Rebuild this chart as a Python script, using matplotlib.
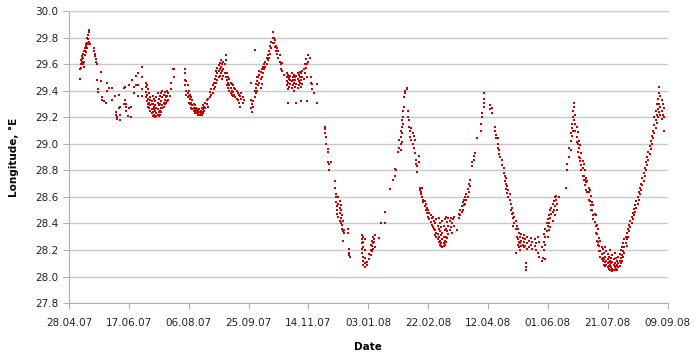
import datetime as dt
import numpy as np
import matplotlib
matplotlib.use('Agg')
import matplotlib.pyplot as plt
import matplotlib.dates as mdates
from matplotlib.ticker import FormatStrFormatter

# days since 28.04.07, then longitude readings of that day (deg E)
start = dt.datetime(2007, 4, 28)

spring07 = [
    (9, 29.49, 29.56), (10, 29.6, 29.63, 29.57), (11, 29.64, 29.62, 29.66),
    (12, 29.6, 29.68, 29.65), (12.5, 29.7, 29.62, 29.58), (13, 29.72, 29.67, 29.7),
    (14, 29.75, 29.69, 29.74), (15, 29.76, 29.8, 29.72), (16, 29.79, 29.82, 29.75),
    (17, 29.86, 29.84, 29.77), (17.5, 29.75), (21, 29.72, 29.7), (22, 29.68, 29.66),
    (22.5, 29.62, 29.64), (23, 29.6, 29.48), (24, 29.41, 29.39), (26.5, 29.54, 29.47),
    (27.5, 29.35, 29.33), (29, 29.32), (31, 29.31),
    (32, 29.46, 29.4), (33, 29.42), (36, 29.42, 29.33), (38, 29.36), (39, 29.24, 29.22),
    (40, 29.2, 29.19), (42, 29.37, 29.27), (42.5, 29.28), (43, 29.18, 29.22),
    (46, 29.42, 29.3), (47, 29.43, 29.33), (48, 29.28, 29.25, 29.3), (49, 29.21),
    (50, 29.44, 29.27), (52, 29.2, 29.28), (52.5, 29.48), (54, 29.43, 29.38),
    (56, 29.51, 29.44), (57.5, 29.53, 29.36), (58, 29.44), (61, 29.58, 29.5, 29.41, 29.36),
]

summer07 = [
    (64, 29.46, 29.43, 29.39, 29.35), (65, 29.44, 29.37, 29.32), (66, 29.41, 29.34, 29.3, 29.28),
    (67, 29.38, 29.31, 29.27), (68, 29.35, 29.29, 29.25, 29.33), (69, 29.32, 29.26, 29.23, 29.3),
    (70, 29.3, 29.24, 29.21, 29.36), (71, 29.28, 29.22, 29.26, 29.34), (72, 29.25, 29.2, 29.29, 29.32),
    (73, 29.23, 29.21, 29.27, 29.35), (74, 29.22, 29.26, 29.31, 29.38), (75, 29.24, 29.21, 29.29, 29.34),
    (76, 29.25, 29.3, 29.36, 29.22), (77, 29.27, 29.32, 29.38, 29.24), (78, 29.29, 29.35, 29.4, 29.27),
    (79, 29.31, 29.37, 29.28), (80, 29.33, 29.3, 29.39), (81, 29.35, 29.31, 29.36), (82, 29.36, 29.32, 29.4),
    (83, 29.33, 29.38), (84, 29.36), (85, 29.41, 29.46), (87, 29.56), (88, 29.56, 29.5),
    (97, 29.56, 29.53, 29.48, 29.44), (98, 29.47, 29.4, 29.37), (99, 29.44, 29.38, 29.35),
    (100, 29.4, 29.36, 29.31), (101, 29.37, 29.34, 29.3), (102, 29.35, 29.31, 29.27),
    (103, 29.33, 29.29, 29.26), (104, 29.3, 29.27, 29.25), (105, 29.29, 29.26, 29.23),
    (106, 29.27, 29.25, 29.24), (107, 29.26, 29.24, 29.23), (108, 29.25, 29.23, 29.22),
    (109, 29.24, 29.22, 29.26), (110, 29.23, 29.25, 29.22), (111, 29.24, 29.27, 29.22),
    (112, 29.26, 29.23, 29.29), (113, 29.25, 29.28), (114, 29.27, 29.31), (115, 29.3, 29.33),
    (116, 29.28, 29.34), (118, 29.35, 29.39), (119, 29.37, 29.41), (120, 29.38, 29.44),
    (121, 29.41, 29.46), (122, 29.43, 29.49), (123, 29.46, 29.51, 29.55), (124, 29.48, 29.53, 29.57),
    (125, 29.5, 29.55, 29.59), (126, 29.51, 29.56, 29.61), (127, 29.53, 29.58, 29.63),
    (128, 29.55, 29.6, 29.49), (129, 29.56, 29.62, 29.51), (130, 29.6, 29.53), (131, 29.67, 29.63, 29.5),
    (132, 29.53, 29.48, 29.44), (133, 29.5, 29.46, 29.42), (134, 29.49, 29.44, 29.4),
    (135, 29.46, 29.42, 29.38), (136, 29.45, 29.4, 29.37), (137, 29.44, 29.39, 29.36),
    (138, 29.42, 29.37), (139, 29.41, 29.35), (140, 29.4, 29.34), (141, 29.38, 29.33),
    (142, 29.37, 29.31), (143, 29.36, 29.28), (144, 29.38, 29.34), (145, 29.35, 29.31), (146, 29.33),
]

autumn07 = [
    (152, 29.33, 29.27, 29.46), (153, 29.3, 29.24), (154, 29.28, 29.32), (155, 29.71, 29.4, 29.35),
    (156, 29.42, 29.38, 29.45), (157, 29.47, 29.4, 29.5), (158, 29.5, 29.44), (159, 29.52, 29.46, 29.55),
    (160, 29.54, 29.49, 29.42), (161, 29.56, 29.5, 29.45), (162, 29.58, 29.53), (163, 29.6, 29.56),
    (164, 29.62, 29.58), (165, 29.65, 29.6), (166, 29.67, 29.63), (167, 29.7, 29.65), (168, 29.74, 29.68),
    (169, 29.77, 29.72), (170, 29.84, 29.8, 29.76), (171, 29.8, 29.76), (172, 29.78, 29.73),
    (173, 29.74, 29.7), (174, 29.72, 29.68), (175, 29.7, 29.65), (176, 29.67, 29.62), (177, 29.6, 29.56),
    (178, 29.61, 29.55), (180, 29.52), (182, 29.5, 29.47, 29.44, 29.53), (183, 29.52, 29.46, 29.41, 29.31),
    (184, 29.49, 29.43, 29.5), (185, 29.51, 29.45, 29.48), (186, 29.47, 29.42, 29.53),
    (187, 29.5, 29.44, 29.48), (188, 29.52, 29.46, 29.4), (189, 29.48, 29.43, 29.5),
    (190, 29.51, 29.45, 29.31), (191, 29.49, 29.42, 29.53), (192, 29.52, 29.47, 29.44),
    (193, 29.5, 29.46, 29.54), (194, 29.53, 29.48, 29.43, 29.32), (195, 29.55, 29.5, 29.45),
    (196, 29.56, 29.49), (197, 29.6, 29.53), (198, 29.64, 29.57), (199, 29.6, 29.32, 29.5),
    (200, 29.67, 29.62), (201, 29.65), (202, 29.5, 29.46), (203, 29.45, 29.41), (205, 29.38),
    (207, 29.31, 29.45),
]

winter08 = [
    (214, 29.13, 29.11, 29.08), (215, 29.05, 29.0), (216, 28.96, 28.94, 28.86), (217, 28.85, 28.8),
    (219, 28.86), (222, 28.72, 28.67), (223, 28.62, 28.6, 28.56), (224, 28.53, 28.5, 28.47),
    (225, 28.6, 28.55, 28.45), (226, 28.57, 28.52, 28.48, 28.42), (227, 28.54, 28.5, 28.44, 28.4),
    (228, 28.46, 28.39, 28.36), (229, 28.42, 28.34, 28.27), (230, 28.35, 28.33), (233, 28.36, 28.33),
    (234, 28.21, 28.18, 28.16), (235, 28.15), (245, 28.31, 28.28, 28.25, 28.21, 28.18),
    (246, 28.3, 28.26, 28.22, 28.15, 28.12, 28.09), (247, 28.28, 28.2, 28.14, 28.07, 28.1),
    (249, 28.11, 28.09), (251, 28.13, 28.17), (252, 28.2, 28.16, 28.24), (253, 28.23, 28.19, 28.27),
    (254, 28.25, 28.21, 28.3), (255, 28.28, 28.26), (256, 28.31, 28.22), (259, 28.29), (261, 28.4),
    (264, 28.4, 28.49), (268, 28.66), (271, 28.73), (272, 28.76, 28.81), (273, 28.8), (275, 28.94),
    (276, 28.97, 29.03), (277, 29.0, 29.05, 29.1, 28.95), (278, 29.08, 29.13, 29.18, 29.01),
    (279, 29.2, 29.25, 29.15), (280, 29.28, 29.35), (281, 29.38, 29.4), (282, 29.42, 29.41),
    (283, 29.25, 29.2), (284, 29.18, 29.13), (285, 29.1, 29.05), (286, 29.12, 29.03), (287, 29.08, 29.0),
    (288, 29.06, 28.97), (289, 29.03, 28.93), (290, 28.88, 28.85), (291, 28.83, 28.79), (292, 28.91, 28.86),
    (293, 28.67, 28.65), (294, 28.64, 28.62), (295, 28.6, 28.67), (296, 28.58, 28.56), (297, 28.57, 28.53),
    (298, 28.55, 28.5), (299, 28.52, 28.48), (300, 28.5, 28.45), (301, 28.48, 28.43), (302, 28.46, 28.41),
    (303, 28.44, 28.39), (304, 28.45, 28.37), (305, 28.42, 28.36), (306, 28.4, 28.35, 28.31),
    (307, 28.43, 28.33, 28.3), (308, 28.38, 28.32, 28.28), (309, 28.44, 28.36, 28.3, 28.26),
    (310, 28.4, 28.34, 28.27, 28.24), (311, 28.37, 28.31, 28.25, 28.23), (312, 28.42, 28.33, 28.28, 28.22),
    (313, 28.38, 28.3, 28.25, 28.23), (314, 28.43, 28.35, 28.27, 28.24), (315, 28.45, 28.36, 28.3, 28.26),
    (316, 28.41, 28.34, 28.29), (317, 28.44, 28.38, 28.32), (318, 28.42, 28.35), (319, 28.44, 28.37),
    (320, 28.4, 28.33), (321, 28.43), (322, 28.45, 28.38), (324, 28.35), (326, 28.47, 28.44),
    (327, 28.5, 28.46), (328, 28.53, 28.49), (329, 28.56, 28.5), (330, 28.58, 28.54), (331, 28.55, 28.6),
    (332, 28.62, 28.58), (333, 28.66, 28.6), (334, 28.7, 28.64), (335, 28.73, 28.68), (337, 28.83, 28.86),
    (338, 28.88, 28.91), (339, 28.93), (341, 29.04), (344, 29.1, 29.15), (345, 29.2, 29.23),
    (347, 29.28, 29.31, 29.34, 29.38),
]

spring08 = [
    (352, 29.29, 29.26), (353, 29.27, 29.23), (356, 29.13, 29.1), (357, 29.07, 29.04),
    (358, 29.0, 28.97, 29.04), (359, 28.95, 28.92), (360, 28.9), (362, 28.88, 28.84), (363, 28.82, 28.78),
    (364, 28.76, 28.72), (365, 28.7, 28.66, 28.74), (366, 28.68, 28.63), (367, 28.65, 28.6),
    (368, 28.62, 28.58), (369, 28.55, 28.5), (370, 28.52, 28.47), (371, 28.48, 28.44, 28.38),
    (372, 28.45, 28.4), (373, 28.42, 28.36, 28.18), (374, 28.38, 28.3), (375, 28.36, 28.28, 28.24),
    (376, 28.33, 28.26, 28.22), (377, 28.3, 28.25, 28.2), (378, 28.32, 28.27, 28.23), (379, 28.29, 28.24),
    (380, 28.31, 28.26, 28.22), (381, 28.28, 28.23), (382, 28.1, 28.07, 28.05), (383, 28.3, 28.25, 28.21),
    (384, 28.27, 28.22), (386, 28.29, 28.24), (387, 28.26, 28.21), (389, 28.28, 28.23), (390, 28.25, 28.2),
    (392, 28.3, 28.18), (393, 28.15, 28.26), (395, 28.22, 28.12), (396, 28.14), (397, 28.32, 28.26, 28.2),
    (398, 28.36, 28.3, 28.24, 28.13), (399, 28.4, 28.34), (400, 28.43, 28.38, 28.3), (401, 28.46, 28.4, 28.35),
    (402, 28.5, 28.44, 28.37), (403, 28.52, 28.47), (404, 28.55, 28.49, 28.42), (405, 28.57, 28.5),
    (406, 28.6, 28.53, 28.46), (407, 28.58, 28.61), (408, 28.55, 28.5), (409, 28.6),
]

summer08 = [
    (415, 28.67), (416, 28.8, 28.85), (418, 28.9, 28.97), (419, 29.02, 28.95, 29.08), (420, 29.12, 29.06, 29.15),
    (421, 29.2, 29.1, 29.25), (422, 29.31, 29.28, 29.18), (423, 29.22, 29.15, 29.1), (424, 29.13, 29.05, 29.01),
    (425, 29.09, 29.0, 28.94), (426, 29.02, 28.97, 28.9), (427, 28.99, 28.89, 28.87), (428, 28.93, 28.84, 28.8),
    (429, 28.87, 28.82, 28.76), (430, 28.85, 28.76, 28.73), (431, 28.8, 28.73, 28.69), (432, 28.74, 28.71, 28.65),
    (433, 28.72, 28.64), (434, 28.67, 28.64, 28.58), (435, 28.65, 28.57), (436, 28.61, 28.54, 28.5),
    (437, 28.56, 28.5), (438, 28.54, 28.46, 28.43), (439, 28.47, 28.41), (440, 28.46, 28.38, 28.33),
    (441, 28.39, 28.32, 28.27), (442, 28.36, 28.26, 28.24), (443, 28.29, 28.23, 28.19), (444, 28.27, 28.19, 28.15),
    (445, 28.22, 28.17, 28.13), (446, 28.21, 28.14, 28.12), (447, 28.18, 28.13, 28.09), (448, 28.22, 28.15, 28.11, 28.08),
    (449, 28.19, 28.12, 28.09), (450, 28.17, 28.13, 28.07, 28.1), (451, 28.15, 28.11, 28.08, 28.06),
    (452, 28.2, 28.12, 28.09, 28.05), (453, 28.14, 28.1, 28.07), (454, 28.16, 28.11, 28.06, 28.04),
    (455, 28.13, 28.09, 28.05), (456, 28.18, 28.1, 28.07, 28.05), (457, 28.14, 28.08, 28.06),
    (458, 28.12, 28.09, 28.05), (459, 28.15, 28.1, 28.07), (460, 28.17, 28.12, 28.08), (461, 28.2, 28.14, 28.1),
    (462, 28.22, 28.16, 28.12), (463, 28.25, 28.19, 28.15), (464, 28.28, 28.22, 28.18), (465, 28.3, 28.25),
    (466, 28.33, 28.28, 28.23), (467, 28.36, 28.3), (468, 28.39, 28.34), (469, 28.42, 28.37), (470, 28.45, 28.4),
    (471, 28.48, 28.43), (472, 28.51, 28.46), (473, 28.54, 28.49), (474, 28.57, 28.52), (475, 28.6, 28.55),
    (476, 28.64, 28.58), (477, 28.67, 28.62), (478, 28.7, 28.65), (479, 28.74, 28.69), (480, 28.78, 28.72),
    (481, 28.82, 28.76), (482, 28.86, 28.8), (483, 28.9, 28.84), (484, 28.94, 28.88), (485, 28.98, 28.92),
    (486, 29.02, 28.96), (487, 29.06, 29.0), (488, 29.1, 29.04), (489, 29.14, 29.08, 29.2),
    (490, 29.18, 29.12, 29.25), (491, 29.22, 29.16, 29.3), (492, 29.26, 29.2, 29.34),
    (493, 29.43, 29.38, 29.3, 29.24), (494, 29.36, 29.28, 29.22), (495, 29.33, 29.25, 29.19),
    (496, 29.3, 29.22), (497, 29.27, 29.2, 29.1),
]

dates, lons = [], []
for seg in [spring07, summer07, autumn07, winter08, spring08, summer08]:
    for row in seg:
        for v in row[1:]:
            dates.append(start + dt.timedelta(days=row[0]))
            lons.append(v)

fig = plt.figure(figsize=(7, 3.57), dpi=100)
ax = fig.add_axes([0.0986, 0.151, 0.855, 0.818])

ax.plot(dates, lons, linestyle='none', marker='s', markersize=1.9,
        color='#CC0000', markeredgewidth=0)

ax.set_xlim(start, start + dt.timedelta(days=500))
ax.set_ylim(27.8, 30.0)
ax.set_xticks([start + dt.timedelta(days=50 * i) for i in range(11)])
ax.xaxis.set_major_formatter(mdates.DateFormatter('%d.%m.%y'))
ax.set_yticks(np.arange(27.8, 30.01, 0.2))
ax.yaxis.set_major_formatter(FormatStrFormatter('%.1f'))

ax.yaxis.grid(True, color='#C8C8C8', linewidth=1)
ax.set_axisbelow(True)
ax.spines['right'].set_visible(False)
ax.spines['top'].set_color('#C8C8C8')
ax.spines['left'].set_color('#B0B0B0')
ax.spines['bottom'].set_color('#B0B0B0')
ax.tick_params(axis='both', colors='#B0B0B0', labelcolor='#222222', labelsize=7.5,
               length=4, direction='out')
ax.tick_params(axis='x', pad=7)

ax.set_xlabel('Date', fontsize=7.5, fontweight='bold', labelpad=10)
ax.set_ylabel('Longitude, °E', fontsize=7.5, fontweight='bold', labelpad=12)

fig.savefig('out.png', dpi=100)
